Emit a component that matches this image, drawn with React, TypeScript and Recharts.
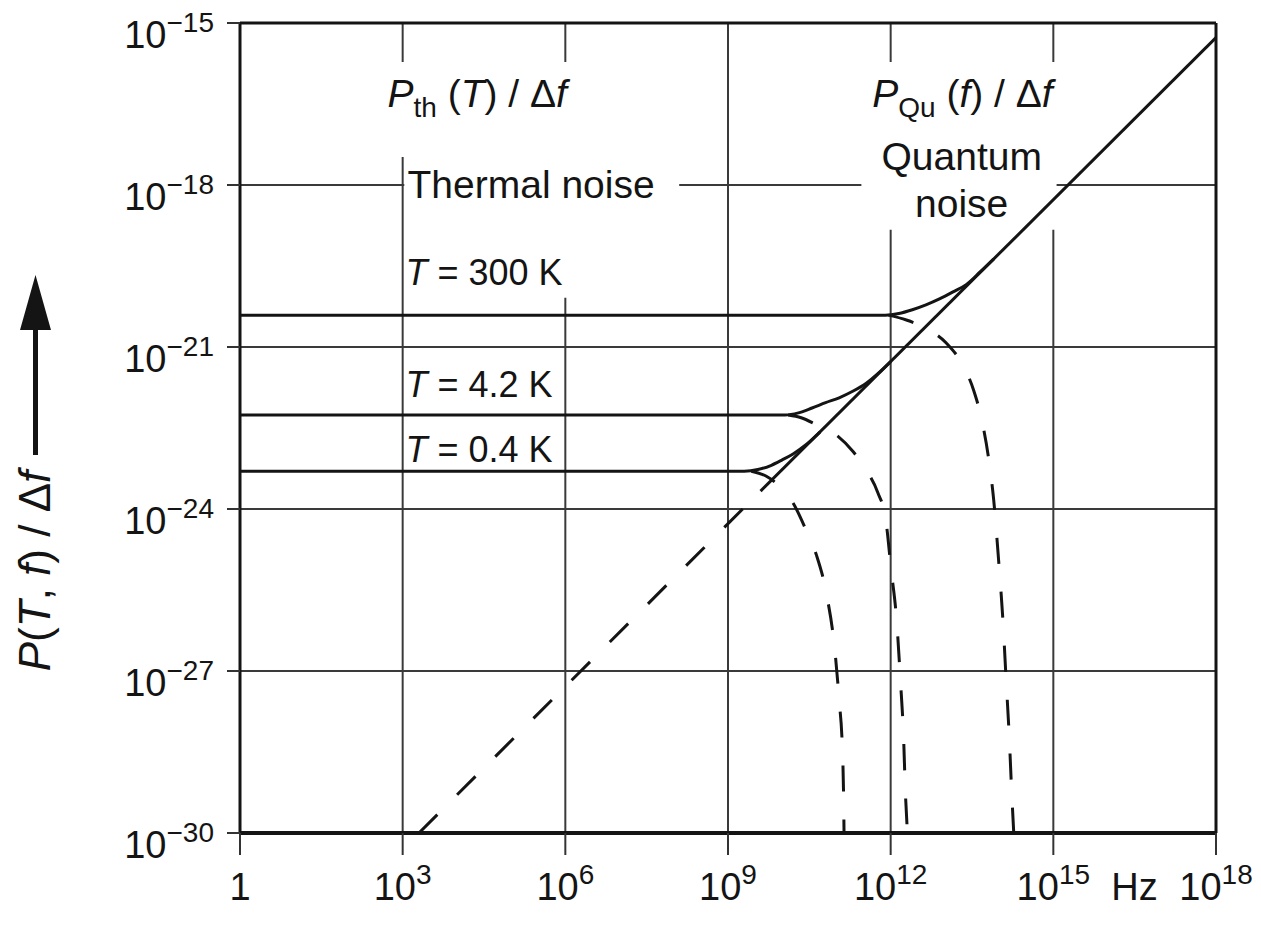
import React from "react";
import {
  LineChart,
  Line,
  XAxis,
  YAxis,
  CartesianGrid,
  ReferenceLine,
  ReferenceArea,
  ReferenceDot,
} from "recharts";

// ---- axes (log10 of frequency in Hz, log10 of power density in W/Hz) ----
const xTicks = [0, 3, 6, 9, 12, 15, 18];
const xTickExponents = ["", "3", "6", "9", "12", "15", "18"];
const yTicks = [-30, -27, -24, -21, -18, -15];
const yTickExponents = ["\u221230", "\u221227", "\u221224", "\u221221", "\u221218", "\u221215"];

// ---- quantum noise h*f (straight line in log-log) ----
const quantumSolid = [
  { x: 9.6, y: -23.67 },
  { x: 18, y: -15.27 },
];
const quantumDashed = [
  { x: 3.3, y: -30 },
  { x: 9.6, y: -23.67 },
];

// ---- total noise (solid) ----
const total300K = [
  { x: 0, y: -20.41 },
  { x: 11.9, y: -20.41 },
  { x: 12.15, y: -20.38 },
  { x: 12.4, y: -20.31 },
  { x: 12.65, y: -20.22 },
  { x: 12.9, y: -20.11 },
  { x: 13.15, y: -19.98 },
  { x: 13.4, y: -19.84 },
  { x: 13.65, y: -19.61 },
  { x: 13.9, y: -19.37 },
];
const total4K = [
  { x: 0, y: -22.26 },
  { x: 10.05, y: -22.26 },
  { x: 10.3, y: -22.22 },
  { x: 10.55, y: -22.13 },
  { x: 10.8, y: -22.03 },
  { x: 11.05, y: -21.94 },
  { x: 11.3, y: -21.82 },
  { x: 11.55, y: -21.67 },
  { x: 11.8, y: -21.46 },
  { x: 12.0, y: -21.27 },
];
const total04K = [
  { x: 0, y: -23.3 },
  { x: 9.3, y: -23.3 },
  { x: 9.55, y: -23.27 },
  { x: 9.8, y: -23.19 },
  { x: 10.0, y: -23.09 },
  { x: 10.2, y: -22.98 },
  { x: 10.45, y: -22.8 },
  { x: 10.7, y: -22.57 },
];

// ---- thermal noise (dashed) ----
const thermal300K = [
  { x: 11.96, y: -20.41 },
  { x: 12.29, y: -20.5 },
  { x: 12.66, y: -20.66 },
  { x: 13.03, y: -20.93 },
  { x: 13.31, y: -21.3 },
  { x: 13.53, y: -21.8 },
  { x: 13.68, y: -22.35 },
  { x: 13.81, y: -23.09 },
  { x: 13.9, y: -23.83 },
  { x: 13.99, y: -24.94 },
  { x: 14.07, y: -26.06 },
  { x: 14.13, y: -27.17 },
  { x: 14.19, y: -28.28 },
  { x: 14.23, y: -29.2 },
  { x: 14.27, y: -30 },
];
const thermal4K = [
  { x: 10.11, y: -22.26 },
  { x: 10.35, y: -22.31 },
  { x: 10.63, y: -22.44 },
  { x: 11.0, y: -22.63 },
  { x: 11.31, y: -22.94 },
  { x: 11.57, y: -23.31 },
  { x: 11.76, y: -23.69 },
  { x: 11.91, y: -24.2 },
  { x: 12.01, y: -25.13 },
  { x: 12.11, y: -26.06 },
  { x: 12.18, y: -27.17 },
  { x: 12.24, y: -28.28 },
  { x: 12.27, y: -29.2 },
  { x: 12.31, y: -30 },
];
const thermal04K = [
  { x: 9.43, y: -23.3 },
  { x: 9.7, y: -23.39 },
  { x: 9.98, y: -23.61 },
  { x: 10.2, y: -23.89 },
  { x: 10.44, y: -24.39 },
  { x: 10.63, y: -24.85 },
  { x: 10.82, y: -25.59 },
  { x: 10.97, y: -26.61 },
  { x: 11.05, y: -27.54 },
  { x: 11.11, y: -28.46 },
  { x: 11.13, y: -29.2 },
  { x: 11.14, y: -30 },
];

const FONT = "'Liberation Sans', Arial, Helvetica, sans-serif";
const INK = "#141414";
const GRID = "#3a3a3a";
const TICK_FS = 38;
const SUP_FS = 28;

const XTick = (p: any) => {
  const v = p.payload.value;
  const i = xTicks.indexOf(v);
  const exp = xTickExponents[i];
  const y = p.y + 45;
  if (!exp) {
    return (
      <text x={p.x} y={y} textAnchor="middle" fontSize={TICK_FS} fill={INK} fontFamily={FONT}>
        1
      </text>
    );
  }
  return (
    <g>
      <text x={p.x} y={y} textAnchor="middle" fontSize={TICK_FS} fill={INK} fontFamily={FONT}>
        10
        <tspan dy={-16} fontSize={SUP_FS}>
          {exp}
        </tspan>
      </text>
      {v === 15 && (
        <text x={p.x + 58} y={y} fontSize={TICK_FS} fill={INK} fontFamily={FONT}>
          Hz
        </text>
      )}
    </g>
  );
};

const YTick = (p: any) => {
  const v = p.payload.value;
  const i = yTicks.indexOf(v);
  return (
    <text x={p.x - 13} y={p.y + 25} textAnchor="end" fontSize={TICK_FS} fill={INK} fontFamily={FONT}>
      10
      <tspan dy={-16} fontSize={SUP_FS}>
        {yTickExponents[i]}
      </tspan>
    </text>
  );
};

const it = { fontStyle: "italic" as const };

export default function App() {
  return (
    <div style={{ position: "relative", width: 1245, height: 928, background: "#fff" }}>
      <LineChart width={1245} height={928} margin={{ top: 15, right: 37, bottom: 20, left: 0 }}>
        <CartesianGrid stroke={GRID} strokeWidth={2} />
        <XAxis
          type="number"
          dataKey="x"
          domain={[0, 18]}
          ticks={xTicks}
          interval={0}
          allowDataOverflow
          height={83}
          tickSize={22}
          tickMargin={0}
          tick={(p: any) => <XTick {...p} />}
          axisLine={{ stroke: INK, strokeWidth: 4 }}
          tickLine={{ stroke: "#333", strokeWidth: 2 }}
        />
        <YAxis
          type="number"
          domain={[-30, -15]}
          ticks={yTicks}
          interval={0}
          allowDataOverflow
          width={232}
          tickSize={13}
          tickMargin={0}
          tick={(p: any) => <YTick {...p} />}
          axisLine={{ stroke: INK, strokeWidth: 3 }}
          tickLine={{ stroke: "#333", strokeWidth: 2 }}
        />

        {/* white label backgrounds interrupting the grid */}
        <ReferenceArea x1={2.5} x2={6.93} y1={-17.48} y2={-15.72} fill="#fff" fillOpacity={1} stroke="none" />
        <ReferenceArea x1={3.03} x2={8.1} y1={-18.5} y2={-17.48} fill="#fff" fillOpacity={1} stroke="none" />
        <ReferenceArea x1={3.03} x2={6.3} y1={-20.09} y2={-18.5} fill="#fff" fillOpacity={1} stroke="none" />
        <ReferenceArea x1={11.46} x2={15.06} y1={-18.83} y2={-15.72} fill="#fff" fillOpacity={1} stroke="none" />

        <ReferenceLine y={-15} stroke={INK} strokeWidth={3} />
        <ReferenceLine x={18} stroke={INK} strokeWidth={3} />

        <Line data={quantumDashed} dataKey="y" type="linear" stroke={INK} strokeWidth={3} strokeDasharray="26 28" dot={false} activeDot={false} isAnimationActive={false} />
        <Line data={quantumSolid} dataKey="y" type="linear" stroke={INK} strokeWidth={3} dot={false} activeDot={false} isAnimationActive={false} />
        <Line data={total300K} dataKey="y" type="monotone" stroke={INK} strokeWidth={3} dot={false} activeDot={false} isAnimationActive={false} />
        <Line data={total4K} dataKey="y" type="monotone" stroke={INK} strokeWidth={3} dot={false} activeDot={false} isAnimationActive={false} />
        <Line data={total04K} dataKey="y" type="monotone" stroke={INK} strokeWidth={3} dot={false} activeDot={false} isAnimationActive={false} />
        <Line data={thermal300K} dataKey="y" type="monotone" stroke={INK} strokeWidth={3} strokeDasharray="26 28" dot={false} activeDot={false} isAnimationActive={false} />
        <Line data={thermal4K} dataKey="y" type="monotone" stroke={INK} strokeWidth={3} strokeDasharray="26 28" dot={false} activeDot={false} isAnimationActive={false} />
        <Line data={thermal04K} dataKey="y" type="monotone" stroke={INK} strokeWidth={3} strokeDasharray="26 28" dot={false} activeDot={false} isAnimationActive={false} />

        {/* annotations */}
        <ReferenceDot
          x={2.72}
          y={-16.56}
          r={1}
          ifOverflow="visible"
          shape={(s: any) => (
            <text x={s.cx} y={s.cy} fontSize={39} fill={INK} fontFamily={FONT}>
              <tspan {...it}>P</tspan>
              <tspan dy={10} fontSize={28}>th</tspan>
              <tspan dy={-10}>{" ("}</tspan>
              <tspan {...it}>T</tspan>
              <tspan>{") / \u0394"}</tspan>
              <tspan {...it}>f</tspan>
            </text>
          )}
        />
        <ReferenceDot
          x={3.09}
          y={-18.24}
          r={1}
          ifOverflow="visible"
          shape={(s: any) => (
            <text x={s.cx} y={s.cy} fontSize={39} fill={INK} fontFamily={FONT}>
              Thermal noise
            </text>
          )}
        />
        <ReferenceDot
          x={11.66}
          y={-16.56}
          r={1}
          ifOverflow="visible"
          shape={(s: any) => (
            <text x={s.cx} y={s.cy} fontSize={39} fill={INK} fontFamily={FONT}>
              <tspan {...it}>P</tspan>
              <tspan dy={10} fontSize={28}>Qu</tspan>
              <tspan dy={-10}>{" ("}</tspan>
              <tspan {...it}>f</tspan>
              <tspan>{") / \u0394"}</tspan>
              <tspan {...it}>f</tspan>
            </text>
          )}
        />
        <ReferenceDot
          x={13.31}
          y={-17.72}
          r={1}
          ifOverflow="visible"
          shape={(s: any) => (
            <g>
              <text x={s.cx} y={s.cy} textAnchor="middle" fontSize={39} fill={INK} fontFamily={FONT}>
                Quantum
              </text>
              <text x={s.cx} y={s.cy + 47} textAnchor="middle" fontSize={39} fill={INK} fontFamily={FONT}>
                noise
              </text>
            </g>
          )}
        />
        <ReferenceDot
          x={3.05}
          y={-19.85}
          r={1}
          ifOverflow="visible"
          shape={(s: any) => (
            <text x={s.cx} y={s.cy} fontSize={36} fill={INK} fontFamily={FONT}>
              <tspan {...it}>T</tspan>
              <tspan>{" = 300 K"}</tspan>
            </text>
          )}
        />
        <ReferenceDot
          x={3.05}
          y={-21.93}
          r={1}
          ifOverflow="visible"
          shape={(s: any) => (
            <text x={s.cx} y={s.cy} fontSize={36} fill={INK} fontFamily={FONT}>
              <tspan {...it}>T</tspan>
              <tspan>{" = 4.2 K"}</tspan>
            </text>
          )}
        />
        <ReferenceDot
          x={3.05}
          y={-23.13}
          r={1}
          ifOverflow="visible"
          shape={(s: any) => (
            <text x={s.cx} y={s.cy} fontSize={36} fill={INK} fontFamily={FONT}>
              <tspan {...it}>T</tspan>
              <tspan>{" = 0.4 K"}</tspan>
            </text>
          )}
        />
      </LineChart>

      {/* rotated y-axis title with arrow */}
      <svg
        width={1245}
        height={928}
        style={{ position: "absolute", left: 0, top: 0, pointerEvents: "none" }}
      >
        <text
          transform="translate(42,563) rotate(-90)"
          textAnchor="middle"
          fontSize={44}
          fill={INK}
          fontFamily={FONT}
        >
          <tspan {...it}>P</tspan>
          <tspan>{"("}</tspan>
          <tspan {...it}>T</tspan>
          <tspan>{", "}</tspan>
          <tspan {...it}>f</tspan>
          <tspan>{") / \u0394"}</tspan>
          <tspan {...it}>f</tspan>
        </text>
        <line x1={27.5} y1={447} x2={27.5} y2={318} stroke={INK} strokeWidth={5} />
        <polygon points="12,322 43,322 27.5,267" fill={INK} />
      </svg>
    </div>
  );
}
